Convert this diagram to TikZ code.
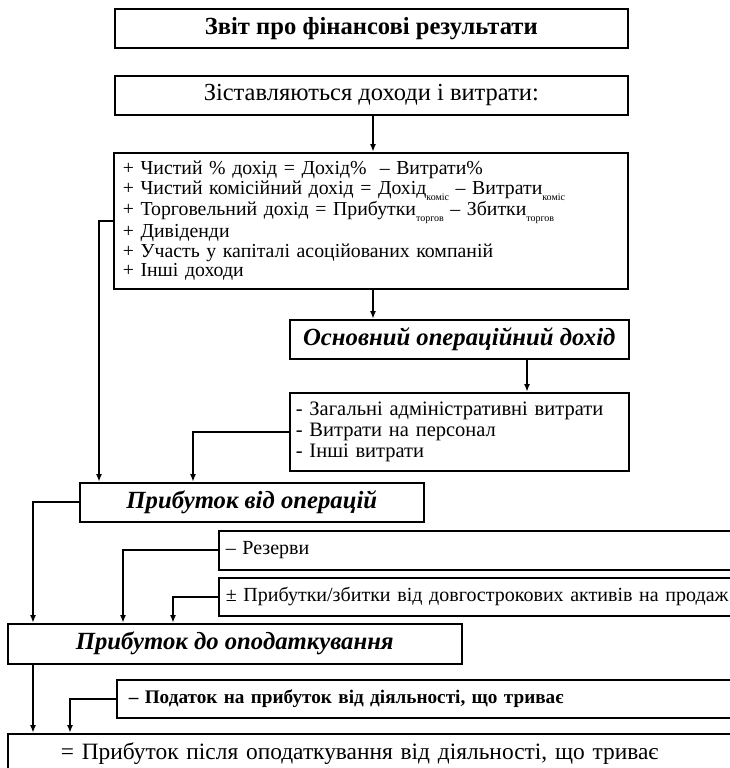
\documentclass[tikz,border=0pt]{standalone}
\usepackage{fontspec}
\setmainfont{Liberation Serif}
\usetikzlibrary{arrows.meta}
\newcommand{\lowtext}[1]{\raisebox{-0.3em}{\fontsize{10}{10}\selectfont #1}}
\begin{document}
\begin{tikzpicture}[x=1pt,y=-1pt,
  box/.style={draw, line width=1.6pt, inner sep=0pt, anchor=north west, align=center},
  lbox/.style={draw, line width=1.6pt, inner ysep=0pt, anchor=north west, align=left},
  arr/.style={line width=1.8pt, -{Latex[length=8pt,width=6pt]}},
  bi/.style={font=\bfseries\itshape\fontsize{24.7}{27}\selectfont}
]
\useasboundingbox (0,0) rectangle (730,768);
\clip (0,0) rectangle (730,768);
\fill[white] (0,0) rectangle (730,768);

\node[box, minimum width=513pt, minimum height=39pt, font=\bfseries\fontsize{24.6}{27}\selectfont] (b1) at (114,8) {Звіт про фінансові результати};
\node[box, minimum width=513pt, minimum height=39pt, font=\fontsize{24.5}{27}\selectfont] (b2) at (114,75) {Зіставляються доходи і витрати:};

\node[lbox, minimum width=514pt, minimum height=136pt, inner xsep=9pt, text width=496pt, font=\fontsize{19.8}{19.6}\selectfont] (b3) at (113,152) {+ Чистий \% дохід = Дохід\%~ – Витрати\%\\
+ Чистий комісійний дохід = Дохід\lowtext{коміс} – Витрати\lowtext{коміс}\\
+ Торговельний дохід = Прибутки\lowtext{торгов} – Збитки\lowtext{торгов}\\
+ Дивіденди\\
+ Участь у капіталі асоційованих компаній\\
+ Інші доходи};

\node[box, minimum width=339pt, minimum height=39pt, bi] (b4) at (289,319) {Основний операційний дохід};

\node[lbox, minimum width=339pt, minimum height=78pt, inner xsep=6pt, text width=327pt, font=\fontsize{20.5}{21}\selectfont] (b5) at (289,392) {- Загальні адміністративні витрати\\
- Витрати на персонал\\
- Інші витрати};

\node[box, minimum width=344pt, minimum height=39pt, bi] (b6) at (79,482) {Прибуток від операцій};

\node[lbox, minimum width=530pt, minimum height=39pt, inner xsep=7pt, text width=516pt, font=\fontsize{20}{22}\selectfont] (b7) at (218,530) {– Резерви};
\node[lbox, minimum width=530pt, minimum height=38pt, inner xsep=7pt, text width=516pt, font=\fontsize{20}{22}\selectfont] (b8) at (218,577) {± Прибутки/збитки від довгострокових активів на продаж};

\node[box, minimum width=454pt, minimum height=40pt, bi] (b9) at (7,623) {Прибуток до оподаткування};

\node[lbox, minimum width=630pt, minimum height=38pt, inner xsep=12pt, text width=606pt, font=\bfseries\fontsize{19.2}{21}\selectfont] (b10) at (116,679) {– Податок на прибуток від діяльності, що триває};

\node[lbox, minimum width=740pt, minimum height=40pt, inner xsep=53pt, text width=634pt, font=\fontsize{23.4}{26}\selectfont] (b11) at (7,733) {= Прибуток після оподаткування від діяльності, що триває};

\draw[arr] (b2.south -| 373,0) -- (b3.north -| 373,0);
\draw[arr] (b3.south -| 373,0) -- (b4.north -| 373,0);
\draw[arr] (b4.south -| 527,0) -- (b5.north -| 527,0);
\draw[arr] (b3.west) -| ([xshift=20pt]b6.north west);
\draw[arr] (b5.west) -| ([xshift=114pt]b6.north west);
\draw[arr] (b6.west) -| ([xshift=26pt]b9.north west);
\draw[arr] (b7.west) -| ([xshift=116pt]b9.north west);
\draw[arr] (b8.west) -| ([xshift=166pt]b9.north west);
\draw[arr] ([xshift=26pt]b9.south west) -- ([xshift=26pt]b11.north west);
\draw[arr] (b10.west) -| ([xshift=63pt]b11.north west);
\end{tikzpicture}
\end{document}
